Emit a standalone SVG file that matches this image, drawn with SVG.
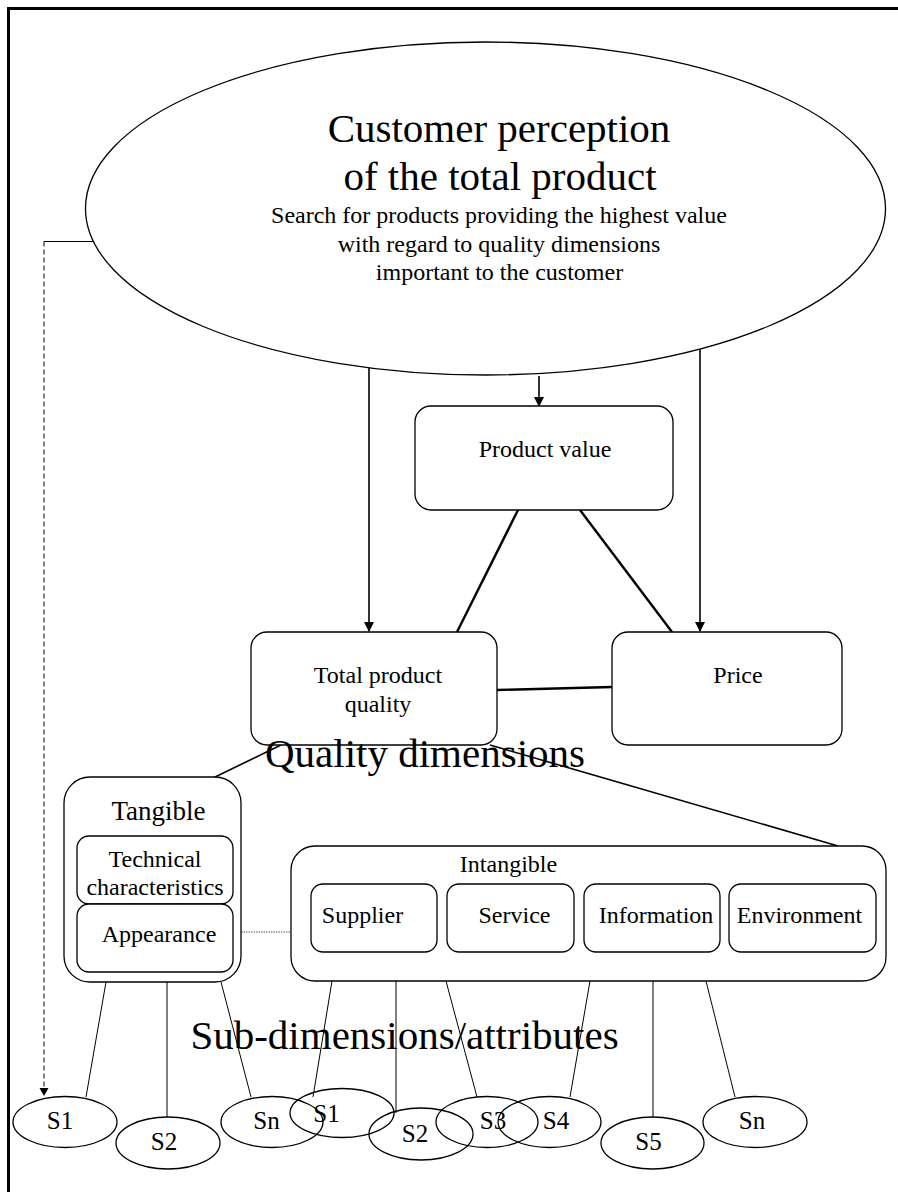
<svg xmlns="http://www.w3.org/2000/svg" width="898" height="1192" viewBox="0 0 898 1192">
<style>
text{font-family:"Liberation Serif","Times New Roman",serif;fill:#000;text-anchor:middle}
.box{fill:#fff;stroke:#000;stroke-width:1.3}
.el{fill:none;stroke:#000;stroke-width:1.3}
.thin{stroke:#000;stroke-width:1;fill:none}
.mid{stroke:#000;stroke-width:1.6;fill:none}
.thick{stroke:#000;stroke-width:2.4;fill:none}
.big{font-size:41px}
.lbl{font-size:24px}
.s{font-size:25px}
</style>
<defs>
<marker id="ah" markerWidth="10" markerHeight="10" refX="9" refY="5" orient="auto" markerUnits="userSpaceOnUse">
<path d="M0,0 L10,5 L0,10 Z" fill="#000"/>
</marker>
<marker id="ahs" markerWidth="8" markerHeight="10" refX="8" refY="5" orient="auto" markerUnits="userSpaceOnUse">
<path d="M0,0.5 L8,5 L0,9.5 Z" fill="#000"/>
</marker>
</defs>
<rect width="898" height="1192" fill="#fff"/>
<path d="M8.5,1192 V8.5 H898" fill="none" stroke="#000" stroke-width="3"/>

<g id="connectors">
<path class="thin" d="M94,241.5 H44"/>
<path class="thin" d="M44,241.5 V1096" stroke-dasharray="5,3" marker-end="url(#ahs)"/>
<path class="mid" d="M369,368 V631" marker-end="url(#ah)"/>
<path class="mid" d="M539,376 V406" marker-end="url(#ah)"/>
<path class="mid" d="M700,349 V631" marker-end="url(#ah)"/>
<path class="thick" d="M518,510 L457,632"/>
<path class="thick" d="M580,510 L672,632"/>
<path class="thick" d="M497,690 L612,687"/>
<path class="mid" d="M281,745 L213,778"/>
<path class="mid" d="M490,745 L838,846"/>
<path d="M241,932 H292" stroke="#555" stroke-width="1" stroke-dasharray="1.5,1" fill="none"/>
<path class="thin" d="M106,982 L86,1097 M167,982 V1117 M221,982 L251,1097"/>
<path class="thin" d="M332,981 L313,1097 M396,981 V1113 M446,981 L477,1097 M590,981 L570,1097 M653,981 V1117 M706,981 L735,1097"/>
</g>

<g id="customer">
<ellipse class="el" cx="485.5" cy="208.5" rx="400" ry="166.5"/>
<text class="big" x="499" y="142">Customer perception</text>
<text class="big" x="500" y="190">of the total product</text>
<text class="lbl" x="499" y="223">Search for products providing the highest value</text>
<text class="lbl" x="499" y="252">with regard to quality dimensions</text>
<text class="lbl" x="499.5" y="280">important to the customer</text>
</g>

<g id="product-value">
<rect class="box" x="415" y="406" width="258" height="104" rx="16"/>
<text class="lbl" x="545" y="457">Product value</text>
</g>

<g id="total-quality">
<rect class="box" x="251" y="632" width="246" height="113" rx="16"/>
<text class="lbl" x="378" y="683">Total product</text>
<text class="lbl" x="378" y="712">quality</text>
</g>

<g id="price">
<rect class="box" x="612" y="632" width="230" height="113" rx="16"/>
<text class="lbl" x="738" y="683">Price</text>
</g>

<g id="quality-dimensions">
<text class="big" x="425" y="767">Quality dimensions</text>
</g>

<g id="tangible">
<rect class="box" x="64" y="777" width="177" height="205" rx="26"/>
<text x="158.5" y="820" font-size="27">Tangible</text>
</g>
<g id="technical">
<rect class="box" x="77" y="836" width="156" height="68" rx="12"/>
<text class="lbl" x="155" y="867">Technical</text>
<text class="lbl" x="155" y="895">characteristics</text>
</g>
<g id="appearance">
<rect class="box" x="77" y="904" width="156" height="68" rx="12"/>
<text class="lbl" x="159" y="942">Appearance</text>
</g>

<g id="intangible">
<rect class="box" x="291" y="846" width="595" height="135" rx="24"/>
<text class="lbl" x="508.5" y="872">Intangible</text>
</g>
<g id="supplier">
<rect class="box" x="311" y="884" width="126" height="68" rx="12"/>
<text class="lbl" x="362.5" y="923">Supplier</text>
</g>
<g id="service">
<rect class="box" x="447" y="884" width="127" height="68" rx="12"/>
<text class="lbl" x="514.5" y="923">Service</text>
</g>
<g id="information">
<rect class="box" x="584" y="884" width="136" height="68" rx="12"/>
<text class="lbl" x="656" y="923">Information</text>
</g>
<g id="environment">
<rect class="box" x="729" y="884" width="147" height="68" rx="12"/>
<text class="lbl" x="799.5" y="923">Environment</text>
</g>

<g id="sub-dimensions">
<text class="big" x="404.5" y="1049">Sub-dimensions/attributes</text>
</g>

<g id="s1-t"><ellipse class="el" cx="65" cy="1122" rx="52" ry="25.5"/><text class="s" x="60" y="1129">S1</text></g>
<g id="s2-t"><ellipse class="el" cx="168" cy="1143" rx="52" ry="26"/><text class="s" x="164" y="1150">S2</text></g>
<g id="sn-t"><ellipse class="el" cx="272" cy="1122" rx="51" ry="25.5"/><text class="s" x="266.5" y="1129">Sn</text></g>
<g id="s1-i"><ellipse class="el" cx="342" cy="1113" rx="52" ry="24.5"/><text class="s" x="326.5" y="1122">S1</text></g>
<g id="s2-i"><ellipse class="el" cx="421" cy="1134" rx="52" ry="26"/><text class="s" x="415" y="1142">S2</text></g>
<g id="s3-i"><ellipse class="el" cx="487" cy="1122" rx="51" ry="25.5"/><text class="s" x="493" y="1129">S3</text></g>
<g id="s4-i"><ellipse class="el" cx="549.5" cy="1122" rx="51.5" ry="25.5"/><text class="s" x="556" y="1129">S4</text></g>
<g id="s5-i"><ellipse class="el" cx="652.5" cy="1143" rx="51.5" ry="26"/><text class="s" x="648.5" y="1150">S5</text></g>
<g id="sn-i"><ellipse class="el" cx="755" cy="1122" rx="52" ry="25.5"/><text class="s" x="752" y="1129">Sn</text></g>
</svg>
